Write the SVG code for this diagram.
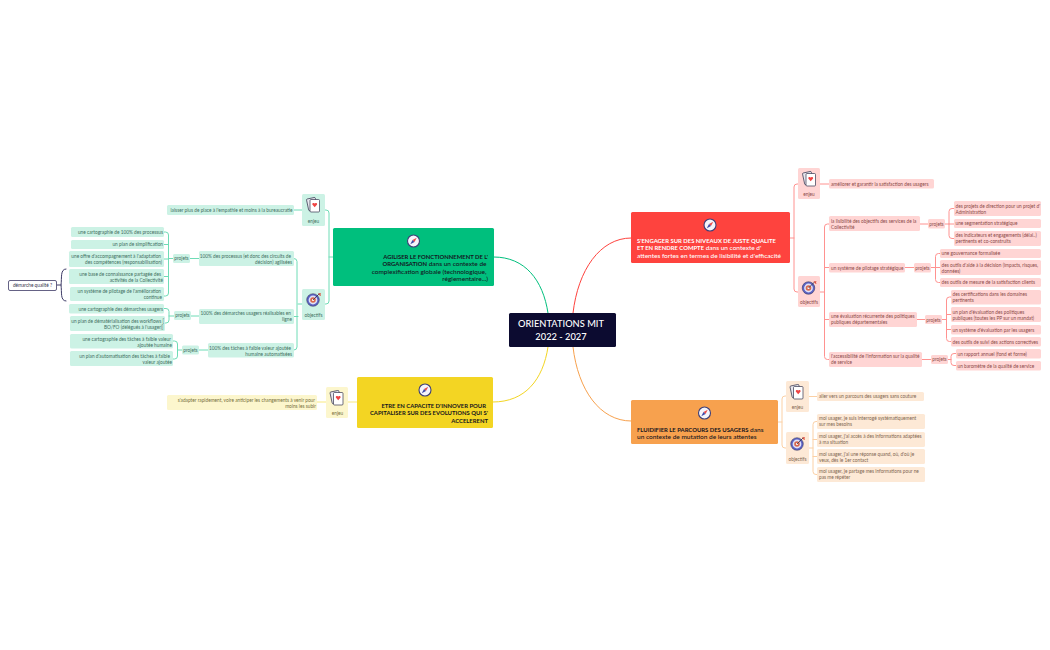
<svg xmlns="http://www.w3.org/2000/svg" width="1050" height="650" viewBox="0 0 1050 650">
<style>
text{font-family:"Lato","Open Sans","Liberation Sans",sans-serif}
.t{font-size:4.750px}
.e{text-anchor:end}
.m{text-anchor:middle}
.gt{fill:#3f6f5f}.rt{fill:#8a4a48}.ot{fill:#7d6650}.yt{fill:#77703c}
.g{fill:#ccf2e5}.r{fill:#ffd5d4}.o{fill:#fde9d6}.y{fill:#fcf6cd}
.c{fill:none;stroke-width:1;stroke-linecap:round}
.gl{stroke:#6fdcb6}.rl{stroke:#ff9290}.ol{stroke:#fbd0a5}.yl{stroke:#f9e97f}
.h{font-size:5.900px;font-weight:700;fill:#14141e}
.h .n{font-size:6.500px;font-weight:500}
.w{fill:#fff}
</style>
<defs>
<g id="cards">
<rect x="-6" y="-7" width="9" height="12" rx="1" transform="rotate(-12 -1 -1)" fill="#e8e8ee" stroke="#33334d" stroke-width=".7"/>
<rect x="-3.500" y="-5.500" width="9.500" height="12.500" rx="1" fill="#fff" stroke="#33334d" stroke-width=".7"/>
<path d="M1.200 2.200L-1.200-.4a1.400 1.400 0 0 1 2.400-1.200a1.400 1.400 0 0 1 2.400 1.200z" fill="#ef4444"/>
</g>
<g id="target">
<circle r="6.300" fill="#5b62c4" stroke="#33334d" stroke-width=".5"/>
<circle r="4.400" fill="#dfe1f7"/>
<circle r="2.800" fill="#d9694f"/>
<circle r="1.100" fill="#fff"/>
<path d="M0 0L6.500-6.500" stroke="#33334d" stroke-width=".8"/>
<path d="M5-7l1.500 0.500 1.500-.5-.5 1.500.5 1.500-1.500-.5z" fill="#e0523f"/>
</g>
<g id="compass">
<circle r="6" fill="#f4f4fb" stroke="#3d3f78" stroke-width="1.100"/>
<path d="M3.200-3.200L1 1-1-1z" fill="#e84a4a"/>
<path d="M-3.200 3.200L-1-1 1 1z" fill="#3d4aa8"/>
</g>
</defs>
<rect width="1050" height="650" fill="#fff"/>

<g id="connectors">
<path class="c" stroke="#00bf7d" d="M548 313C543 280 525 257 494 257"/>
<path class="c" stroke="#fe433e" d="M573 313C578 270 600 238 631 238"/>
<path class="c" stroke="#f7a14e" d="M573 347C578 390 600 421 631 421"/>
<path class="c" stroke="#f3d523" d="M548 347C543 380 525 402 493 402"/>

<path class="c gl" d="M333 257H329M325 210H326a3 3 0 0 1 3 3V301a3 3 0 0 1-3 3H325M294 210H302M302 304H298"/>
<path class="c gl" d="M294 258.500a3 3 0 0 1 3 3V347a3 3 0 0 1-3 3M294 316.500H298"/>
<path class="c gl" d="M199 258.500H190M173 258.500H168.500M164 232H165.500a3 3 0 0 1 3 3V293a3 3 0 0 1-3 3H164M164 244.500H168.500M164 259H168.500M164 276.500H168.500"/>
<path class="c gl" d="M199 316H191M174 316H169M164 308.500H166a3 3 0 0 1 3 3V320a3 3 0 0 1-3 3H165"/>
<path class="c gl" d="M208 350H199M182 350H177.500M173 341H174.500a3 3 0 0 1 3 3V356a3 3 0 0 1-3 3H173"/>
<path class="c" stroke="#3d3a66" d="M57 285H61M66 269C60 269 62 278 61 285C62 292 60 301 66 301"/>

<path class="c rl" d="M790 238H794M798 184H797a3 3 0 0 0-3 3V289a3 3 0 0 0 3 3H798M820 184H829"/>
<path class="c rl" d="M820 292H824.500M829 224H827.500a3 3 0 0 0-3 3V356.500a3 3 0 0 0 3 3H829M824.500 267.500H829M824.500 319.500H829"/>
<path class="c rl" d="M920 224H928M945 224H949M954 208.500H952a3 3 0 0 0-3 3V235.500a3 3 0 0 0 3 3H954M949 224H954"/>
<path class="c rl" d="M905 267.500H914M931 267.500H935.500M940 253.500H938.500a3 3 0 0 0-3 3V279.500a3 3 0 0 0 3 3H940M935.500 267.500H940"/>
<path class="c rl" d="M917 319.500H925M942 319.500H946.500M951 297H949.500a3 3 0 0 0-3 3V338.500a3 3 0 0 0 3 3H951M946.500 314.500H951M946.500 329.500H951"/>
<path class="c rl" d="M922 359.500H931M948 359.500H951M956 353.500H954a3 3 0 0 0-3 3V362.500a3 3 0 0 0 3 3H956"/>

<path class="c ol" d="M778 422H782M786 396H785a3 3 0 0 0-3 3V445a3 3 0 0 0 3 3H786M809 396.500H817"/>
<path class="c ol" d="M809 448H813M817 421.500H816a3 3 0 0 0-3 3V471.500a3 3 0 0 0 3 3H817M813 439.500H817M813 456.500H817"/>

<path class="c yl" d="M357 402H348M326 402H317"/>
</g>

<g id="root"><rect x="509" y="313" width="107" height="34" rx="1.500" fill="#0c0b30"/>
<text x="561" y="326.500" class="m w" style="font-size:9.300px;font-weight:500">ORIENTATIONS MIT</text>
<text x="561" y="339.500" class="m w" style="font-size:9.300px;font-weight:500">2022 - 2027</text></g>

<g id="main-green"><rect x="333" y="228" width="161" height="58" rx="1.500" fill="#00bf7d"/>
<use href="#compass" x="413.500" y="241"/>
<text class="h e"><tspan x="488" y="258.500">AGILISER LE FONCTIONNEMENT DE L'</tspan><tspan x="486.500" y="266"><tspan>ORGANISATION</tspan><tspan class="n"> dans un contexte de</tspan></tspan><tspan class="n" x="486.500" y="273.500">complexification globale (technologique,</tspan><tspan class="n" x="488" y="281">réglementaire...)</tspan></text></g>

<g id="main-red"><rect x="631" y="212" width="159" height="51" rx="1.500" fill="#fe433e"/>
<use href="#compass" x="710" y="225"/>
<text class="h" style="fill:#fff"><tspan x="637" y="242.500">S'ENGAGER SUR DES NIVEAUX DE JUSTE QUALITE</tspan><tspan x="637" y="250"><tspan>ET EN RENDRE COMPTE</tspan><tspan class="n"> dans un contexte d'</tspan></tspan><tspan class="n" x="637" y="257.500">attentes fortes en termes de lisibilité et d'efficacité</tspan></text></g>

<g id="main-orange"><rect x="631" y="400" width="147" height="44" rx="1.500" fill="#f7a14e"/>
<use href="#compass" x="704.500" y="413"/>
<text class="h"><tspan x="637" y="431.500"><tspan>FLUIDIFIER LE PARCOURS DES USAGERS</tspan><tspan class="n"> dans</tspan></tspan><tspan class="n" x="637" y="439">un contexte de mutation de leurs attentes</tspan></text></g>

<g id="main-yellow"><rect x="357" y="377" width="136" height="51" rx="1.500" fill="#f3d523"/>
<use href="#compass" x="425" y="390"/>
<text class="h e"><tspan x="486" y="407.500">ETRE EN CAPACITE D'INNOVER POUR</tspan><tspan x="488" y="415">CAPITALISER SUR DES EVOLUTIONS QUI S'</tspan><tspan x="488" y="422.500">ACCELERENT</tspan></text></g>

<g id="green-enjeu"><rect x="302" y="194" width="23" height="32" rx="1.500" class="g"/><use href="#cards" x="313.500" y="205"/><text x="313.500" y="223" class="t m gt">enjeu</text></g>
<g id="green-enjeu-1"><rect x="167" y="205" width="127" height="10" rx="1.500" class="g"/><text x="292.500" y="211.700" class="t e gt">laisser plus de place à l'empathie et moins à la bureaucratie</text></g>
<g id="green-objectifs"><rect x="302" y="289" width="23" height="31" rx="1.500" class="g"/><use href="#target" x="313" y="300"/><text x="313.500" y="317" class="t m gt">objectifs</text></g>
<g id="g-a"><rect x="199" y="251" width="95" height="15" rx="1.500" class="g"/><text class="t e gt"><tspan x="291" y="257.500">100% des processus (et donc des circuits de</tspan><tspan x="292" y="263.500">décision) agilisées</tspan></text></g>
<g id="g-a-p"><rect x="173" y="254" width="17" height="9" rx="1.500" class="g"/><text x="181.500" y="260.200" class="t m gt">projets</text></g>
<g id="g-a1"><rect x="71" y="227" width="93" height="10" rx="1.500" class="g"/><text x="163" y="233.700" class="t e gt">une cartographie de 100% des processus</text></g>
<g id="g-a2"><rect x="71" y="240" width="93" height="9" rx="1.500" class="g"/><text x="163" y="246" class="t e gt">un plan de simplification</text></g>
<g id="g-a3"><rect x="69" y="251" width="95" height="16" rx="1.500" class="g"/><text class="t e gt"><tspan x="161" y="257.500">une offre d'accompagnement à l'adaptation</tspan><tspan x="162" y="263.500">des compétences (responsabilisation)</tspan></text></g>
<g id="g-a4"><rect x="69" y="269" width="95" height="15" rx="1.500" class="g"/><text class="t e gt"><tspan x="161" y="275.500">une base de connaissance partagée des</tspan><tspan x="163" y="281.500">activités de la Collectivité</tspan></text></g>
<g id="g-a5"><rect x="70" y="287" width="94" height="14" rx="1.500" class="g"/><text class="t e gt"><tspan x="161" y="293">un système de pilotage de l'amélioration</tspan><tspan x="162" y="299">continue</tspan></text></g>
<g id="g-b"><rect x="199" y="309" width="95" height="15" rx="1.500" class="g"/><text class="t e gt"><tspan x="291" y="315">100% des démarches usagers réalisables en</tspan><tspan x="292" y="321">ligne</tspan></text></g>
<g id="g-b-p"><rect x="174" y="311" width="17" height="9" rx="1.500" class="g"/><text x="182.500" y="317.300" class="t m gt">projets</text></g>
<g id="g-b1"><rect x="69" y="304" width="95" height="9.500" rx="1.500" class="g"/><text x="163" y="310.500" class="t e gt">une cartographie des démarches usagers</text></g>
<g id="g-b2"><rect x="70" y="316" width="95" height="15" rx="1.500" class="g"/><text class="t e gt"><tspan x="164" y="322.500">un plan de dématérialisation des workflows [</tspan><tspan x="163.500" y="328.500">BO/FO (délégués à l'usager)]</tspan></text></g>
<g id="g-c"><rect x="208" y="343" width="86" height="14.500" rx="1.500" class="g"/><text class="t e gt"><tspan x="291" y="349.500">100% des tâches à faible valeur ajoutée</tspan><tspan x="292" y="355.500">humaine automatisées</tspan></text></g>
<g id="g-c-p"><rect x="182" y="345.500" width="17" height="9" rx="1.500" class="g"/><text x="190.500" y="351.700" class="t m gt">projets</text></g>
<g id="g-c1"><rect x="70" y="334" width="103" height="14.500" rx="1.500" class="g"/><text class="t e gt"><tspan x="171" y="340.500">une cartographie des tâches à faible valeur</tspan><tspan x="172" y="346.500">ajoutée humaine</tspan></text></g>
<g id="g-c2"><rect x="70" y="351" width="103" height="15" rx="1.500" class="g"/><text class="t e gt"><tspan x="170" y="358">un plan d'automatisation des tâches à faible</tspan><tspan x="172" y="364">valeur ajoutée</tspan></text></g>
<g id="note"><rect x="8.500" y="280.500" width="48" height="10" rx="1.500" fill="#fff" stroke="#3d3a66" stroke-width=".8"/><text x="32.500" y="287" class="t m" fill="#33334d">démarche qualité ?</text></g>

<g id="red-enjeu"><rect x="798" y="168" width="22" height="31" rx="1.500" class="r"/><use href="#cards" x="809.500" y="179"/><text x="809" y="196" class="t m rt">enjeu</text></g>
<g id="r-e1"><rect x="829" y="179" width="105" height="9.500" rx="1.500" class="r"/><text x="831" y="185.500" class="t rt">améliorer et garantir la satisfaction des usagers</text></g>
<g id="red-objectifs"><rect x="798" y="276" width="22" height="31" rx="1.500" class="r"/><use href="#target" x="808.500" y="288"/><text x="809" y="304" class="t m rt">objectifs</text></g>
<g id="r-a"><rect x="829" y="216" width="91" height="15" rx="1.500" class="r"/><text class="t rt"><tspan x="831" y="222.500">la lisibilité des objectifs des services de la</tspan><tspan x="831" y="228.500">Collectivité</tspan></text></g>
<g id="r-a-p"><rect x="928" y="219" width="17" height="9.500" rx="1.500" class="r"/><text x="936.500" y="225.700" class="t m rt">projets</text></g>
<g id="r-a1"><rect x="954" y="201" width="87" height="15" rx="1.500" class="r"/><text class="t rt"><tspan x="955.500" y="207.500">des projets de direction pour un projet d'</tspan><tspan x="955.500" y="213.500">Administration</tspan></text></g>
<g id="r-a2"><rect x="954" y="219" width="87" height="9" rx="1.500" class="r"/><text x="955.500" y="225" class="t rt">une segmentation stratégique</text></g>
<g id="r-a3"><rect x="954" y="231" width="87" height="15" rx="1.500" class="r"/><text class="t rt"><tspan x="955.500" y="237">des indicateurs et engagements (délai..)</tspan><tspan x="955.500" y="243">pertinents et co-construits</tspan></text></g>
<g id="r-b"><rect x="829" y="263" width="76" height="9.500" rx="1.500" class="r"/><text x="831" y="269.700" class="t rt">un système de pilotage stratégique</text></g>
<g id="r-b-p"><rect x="914" y="263" width="17" height="9.500" rx="1.500" class="r"/><text x="922.500" y="269.700" class="t m rt">projets</text></g>
<g id="r-b1"><rect x="940" y="249" width="101" height="9" rx="1.500" class="r"/><text x="941.500" y="255" class="t rt">une gouvernance formalisée</text></g>
<g id="r-b2"><rect x="940" y="260" width="101" height="15" rx="1.500" class="r"/><text class="t rt"><tspan x="941.500" y="266.500">des outils d'aide à la décision (impacts, risques,</tspan><tspan x="941.500" y="272.500">données)</tspan></text></g>
<g id="r-b3"><rect x="940" y="278" width="101" height="9" rx="1.500" class="r"/><text x="941.500" y="284.300" class="t rt">des outils de mesure de la satisfaction clients</text></g>
<g id="r-c"><rect x="829" y="312" width="88" height="15" rx="1.500" class="r"/><text class="t rt"><tspan x="831" y="317.800">une évaluation récurrente des politiques</tspan><tspan x="831" y="324">publiques départementales</tspan></text></g>
<g id="r-c-p"><rect x="925" y="315" width="17" height="9" rx="1.500" class="r"/><text x="933.500" y="321.500" class="t m rt">projets</text></g>
<g id="r-c1"><rect x="951" y="290" width="90" height="14.500" rx="1.500" class="r"/><text class="t rt"><tspan x="952.500" y="296.300">des certifications dans les domaines</tspan><tspan x="952.500" y="302.300">pertinents</tspan></text></g>
<g id="r-c2"><rect x="951" y="307" width="90" height="15" rx="1.500" class="r"/><text class="t rt"><tspan x="952.500" y="313.800">un plan d'évaluation des politiques</tspan><tspan x="952.500" y="319.800">publiques (toutes les PP sur un mandat)</tspan></text></g>
<g id="r-c3"><rect x="951" y="325" width="90" height="9.500" rx="1.500" class="r"/><text x="952.500" y="331.500" class="t rt">un système d'évaluation par les usagers</text></g>
<g id="r-c4"><rect x="951" y="337" width="90" height="9.500" rx="1.500" class="r"/><text x="952.500" y="343.500" class="t rt">des outils de suivi des actions correctives</text></g>
<g id="r-d"><rect x="829" y="352" width="93" height="15" rx="1.500" class="r"/><text class="t rt"><tspan x="831" y="358.200">l'accessibilité de l'information sur la qualité</tspan><tspan x="831" y="364.200">de service</tspan></text></g>
<g id="r-d-p"><rect x="931" y="355" width="17" height="9" rx="1.500" class="r"/><text x="939.500" y="361.200" class="t m rt">projets</text></g>
<g id="r-d1"><rect x="956" y="349" width="85" height="9.500" rx="1.500" class="r"/><text x="957.500" y="355.500" class="t rt">un rapport annuel (fond et forme)</text></g>
<g id="r-d2"><rect x="956" y="361" width="85" height="9.500" rx="1.500" class="r"/><text x="957.500" y="367.500" class="t rt">un baromètre de la qualité de service</text></g>

<g id="orange-enjeu"><rect x="786" y="381" width="23" height="31" rx="1.500" class="o"/><use href="#cards" x="797" y="392"/><text x="797.500" y="409" class="t m ot">enjeu</text></g>
<g id="o-e1"><rect x="817" y="392" width="107" height="9" rx="1.500" class="o"/><text x="819" y="398" class="t ot">aller vers un parcours des usagers sans couture</text></g>
<g id="orange-objectifs"><rect x="786" y="432" width="23" height="32" rx="1.500" class="o"/><use href="#target" x="797" y="444"/><text x="797.500" y="461" class="t m ot">objectifs</text></g>
<g id="o-1"><rect x="817" y="414" width="108" height="15" rx="1.500" class="o"/><text class="t ot"><tspan x="819" y="420">moi usager, je suis interrogé systématiquement</tspan><tspan x="819" y="426">sur mes besoins</tspan></text></g>
<g id="o-2"><rect x="817" y="432" width="108" height="15" rx="1.500" class="o"/><text class="t ot"><tspan x="819" y="438">moi usager, j'ai accès à des informations adaptées</tspan><tspan x="819" y="444">à ma situation</tspan></text></g>
<g id="o-3"><rect x="817" y="449" width="108" height="15" rx="1.500" class="o"/><text class="t ot"><tspan x="819" y="455.500">moi usager, j'ai une réponse quand, où, d'où je</tspan><tspan x="819" y="461.500">veux, dès le 1er contact</tspan></text></g>
<g id="o-4"><rect x="817" y="467" width="108" height="15" rx="1.500" class="o"/><text class="t ot"><tspan x="819" y="473">moi usager, je partage mes informations pour ne</tspan><tspan x="819" y="479">pas me répéter</tspan></text></g>

<g id="yellow-enjeu"><rect x="326" y="387" width="22" height="31" rx="1.500" class="y"/><use href="#cards" x="337" y="398"/><text x="337.500" y="415" class="t m yt">enjeu</text></g>
<g id="y-e1"><rect x="167" y="395" width="150" height="15" rx="1.500" class="y"/><text class="t e yt"><tspan x="315" y="401.500">s'adapter rapidement, voire anticiper les changements à venir pour</tspan><tspan x="316" y="407.500">moins les subir</tspan></text></g>
</svg>
